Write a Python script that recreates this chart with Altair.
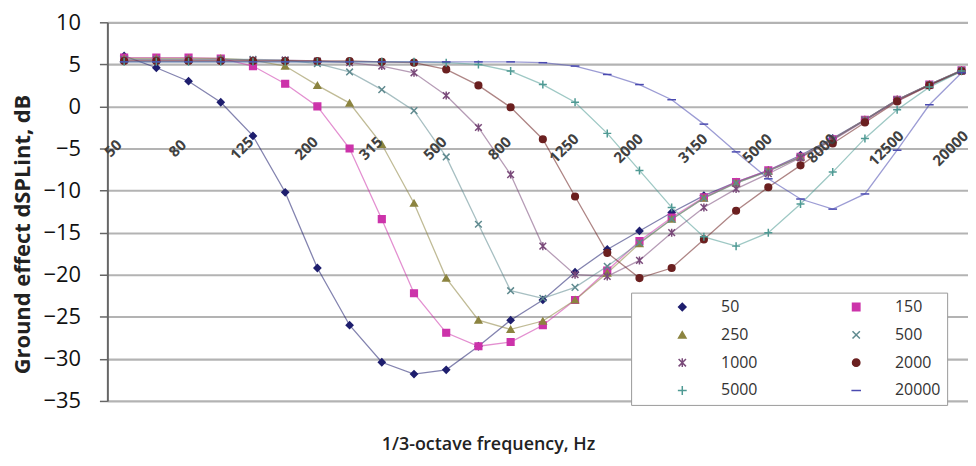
import altair as alt
import pandas as pd

freq_labels = ["50", "63", "80", "100", "125", "160", "200", "250", "315", "400",
               "500", "630", "800", "1000", "1250", "1600", "2000", "2500", "3150",
               "4000", "5000", "6300", "8000", "10000", "12500", "16000", "20000"]

series_names = ["50", "150", "250", "500", "1000", "2000", "5000", "20000"]

s50 = [6.0, 4.6, 3.0, 0.5, -3.5, -10.2, -19.2, -26.0, -30.4, -31.8, -31.3, -28.5, -25.4, -23.0,
       -19.7, -17.0, -14.8, -12.6, -10.6, -9.0, -7.6, -5.8, -3.8, -1.6, 0.8, 2.6, 4.3]
s150 = [5.8, 5.8, 5.8, 5.7, 4.8, 2.7, 0.0, -5.0, -13.4, -22.2, -26.9, -28.5, -28.0, -26.0,
        -23.0, -19.5, -16.0, -13.2, -10.8, -9.0, -7.6, -6.0, -3.9, -1.6, 0.8, 2.6, 4.3]
s250 = [5.7, 5.7, 5.7, 5.7, 5.5, 4.8, 2.5, 0.4, -4.5, -11.5, -20.4, -25.4, -26.5, -25.5,
        -23.0, -19.8, -16.3, -13.4, -10.9, -9.1, -7.7, -6.0, -3.9, -1.6, 0.8, 2.6, 4.3]
s500 = [5.6, 5.6, 5.6, 5.6, 5.6, 5.5, 5.1, 4.1, 2.0, -0.5, -6.0, -14.0, -21.9, -22.8,
        -21.5, -19.0, -16.2, -13.4, -10.9, -9.1, -7.7, -6.0, -3.9, -1.6, 0.8, 2.6, 4.3]
s1000 = [5.5, 5.5, 5.5, 5.5, 5.5, 5.5, 5.4, 5.2, 4.8, 4.0, 1.3, -2.5, -8.1, -16.6,
         -20.0, -20.2, -18.3, -15.0, -12.0, -9.8, -8.0, -6.1, -4.0, -1.7, 0.7, 2.5, 4.2]
s2000 = [5.4, 5.4, 5.4, 5.4, 5.4, 5.4, 5.4, 5.4, 5.3, 5.2, 4.4, 2.5, -0.1, -3.9,
         -10.7, -17.4, -20.4, -19.2, -15.8, -12.4, -9.6, -7.0, -4.4, -1.9, 0.6, 2.5, 4.2]
s5000 = [5.3, 5.3, 5.3, 5.3, 5.3, 5.3, 5.3, 5.3, 5.3, 5.3, 5.2, 5.0, 4.2, 2.6,
         0.5, -3.2, -7.6, -12.0, -15.5, -16.6, -15.0, -11.6, -7.8, -3.8, -0.4, 2.3, 4.2]
s20000 = [5.3, 5.3, 5.3, 5.3, 5.3, 5.3, 5.3, 5.3, 5.3, 5.3, 5.3, 5.3, 5.3, 5.2,
          4.8, 3.8, 2.6, 0.8, -2.1, -5.4, -8.6, -11.0, -12.2, -10.4, -5.2, 0.2, 4.0]

all_series = [s50, s150, s250, s500, s1000, s2000, s5000, s20000]

colors = ["#1e1e6e", "#cc33aa", "#8c8440", "#5f8a8f", "#7a4a7a", "#6b2020", "#4f9a94", "#4a4ab0"]
shapes = ["diamond", "square", "triangle-up",
          "M-1,-1L1,1M-1,1L1,-1",
          "M-1,-1L1,1M-1,1L1,-1M0,-1.2L0,1.2",
          "circle",
          "M-1.2,0L1.2,0M0,-1.2L0,1.2",
          "M-1.3,0L1.3,0"]

rows = []
for name, vals in zip(series_names, all_series):
    for i, v in enumerate(vals):
        rows.append({"series": name, "idx": i, "value": v})
df = pd.DataFrame(rows)

lab_df = pd.DataFrame({"idx": list(range(0, 27, 2)),
                       "label": [freq_labels[i] for i in range(0, 27, 2)]})

xscale = alt.Scale(domain=[-0.52, 26.2], nice=False, zero=False)
yscale = alt.Scale(domain=[-35, 10], nice=False, zero=False)

x_enc = alt.X("idx:Q", scale=xscale,
              axis=alt.Axis(labels=False, ticks=False, domain=False, grid=False,
                            title="1/3-octave frequency, Hz", titleFont="Open Sans",
                            titleFontSize=18, titleFontWeight=600, titleColor="#222222",
                            titleX=383, titleY=49, titleAlign="center",
                            titleBaseline="alphabetic"))
y_enc = alt.Y("value:Q", scale=yscale,
              axis=alt.Axis(values=list(range(-35, 11, 5)), title="Ground effect dSPLint, dB",
                            titleFont="Open Sans", titleFontSize=22, titleFontWeight="bold",
                            titleColor="#222222", titleAngle=270, titleX=-78, titleY=213,
                            titleAlign="center", titleBaseline="alphabetic",
                            labelFont="Open Sans", labelFontSize=22, labelColor="#111111",
                            labelPadding=19, tickSize=8, tickWidth=1.5, tickColor="#666666",
                            domainColor="#666666", domainWidth=2,
                            grid=True, gridColor="#b3b3b3", gridWidth=2.2))

# line colours: same colours, listed in another order so that this scale stays separate
line_scale = alt.Scale(domain=series_names[::-1], range=colors[::-1])
color_scale = alt.Scale(domain=series_names, range=colors)
shape_scale = alt.Scale(domain=series_names, range=shapes)

lines = alt.Chart(df).mark_line(strokeWidth=1.3, opacity=0.55).encode(
    x=x_enc, y=y_enc,
    color=alt.Color("series:N", scale=line_scale, legend=None),
    order="idx:Q",
)

legend = alt.Legend(orient="none", legendX=527, legendY=272, columns=2, direction="horizontal",
                    title=None, fillColor="white", strokeColor="#999999", padding=6.5,
                    symbolOffset=37, labelOffset=31, columnPadding=54, rowPadding=12,
                    symbolSize=55, symbolStrokeWidth=1.5, symbolOpacity=1,
                    labelExpr="datum.label + '       '",
                    labelFont="Open Sans", labelFontSize=16, labelColor="#333333")

points = alt.Chart(df).mark_point(filled=True, size=45, strokeWidth=1.5, opacity=1).encode(
    x="idx:Q", y="value:Q",
    fill=alt.Fill("series:N", scale=color_scale, sort=series_names, legend=legend),
    stroke=alt.Stroke("series:N", scale=color_scale, sort=series_names, legend=legend),
    shape=alt.Shape("series:N", scale=shape_scale, sort=series_names, legend=legend),
)

labels = alt.Chart(lab_df).mark_text(angle=315, align="center", baseline="middle",
                                      font="Open Sans", fontSize=15, fontWeight="bold",
                                      color="#404040").encode(
    x="idx:Q", y=alt.datum(-5), text="label:N", xOffset=alt.value(-11),
)

chart = alt.layer(lines, points, labels).properties(
    width=866, height=381,
    background="white",
    autosize=alt.AutoSizeParams(type="none"),
    padding={"left": 100, "top": 13, "right": 0, "bottom": 54},
).configure_view(strokeWidth=0)

chart.save("out.html", embed_options={"renderer": "svg", "actions": False})
